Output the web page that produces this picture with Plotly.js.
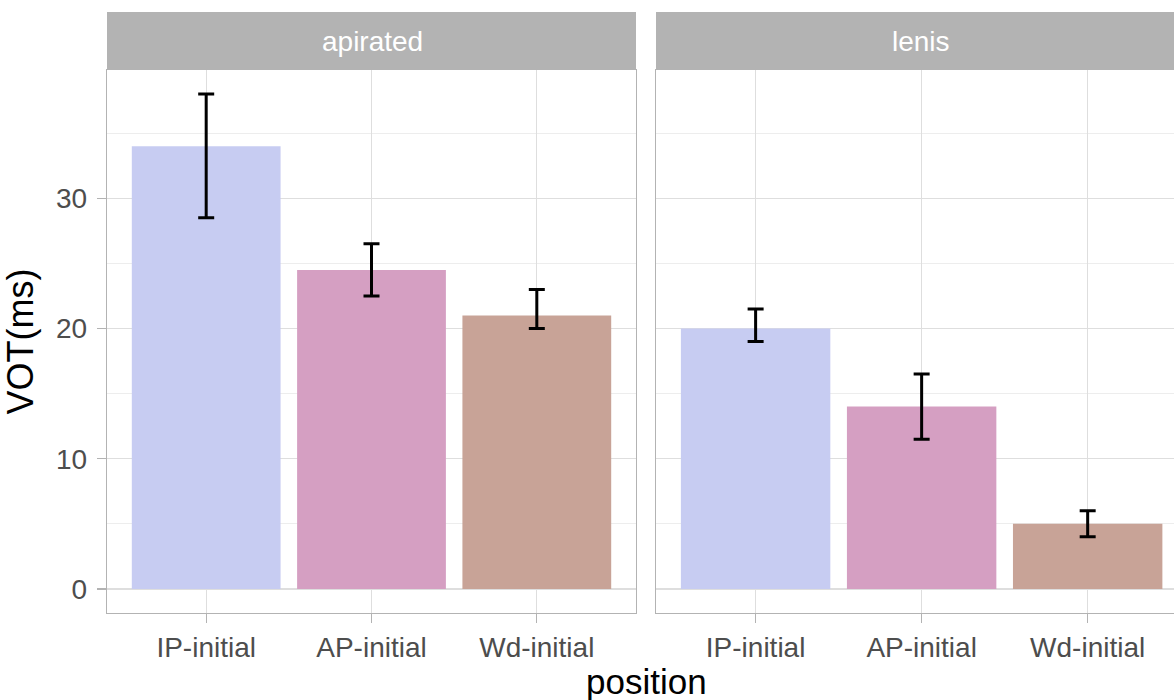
<!DOCTYPE html>
<html>
<head>
<meta charset="utf-8">
<script src="https://cdn.plot.ly/plotly-3.0.1.min.js"></script>
<style>html,body{margin:0;padding:0;background:#fff;}#chart{width:1174px;height:700px;}</style>
</head>
<body>
<div id="chart"></div>
<script>
const categories = ["IP-initial", "AP-initial", "Wd-initial"];
const panels = ["apirated", "lenis"];
const aspMean = [34, 24.5, 21];
const aspLow = [28.5, 22.5, 20];
const aspHigh = [38, 26.5, 23];
const lenMean = [20, 14, 5];
const lenLow = [19, 11.5, 4];
const lenHigh = [21.5, 16.5, 6];
const barColors = ["#C7CCF2", "#D59FC2", "#C8A397"];
const yTicks = [0, 10, 20, 30];

function barTrace(mean, lo, hi, xa, ya) {
  return {
    type: "bar", x: categories, y: mean, xaxis: xa, yaxis: ya,
    width: 0.9,
    marker: {color: barColors, line: {width: 0}},
    error_y: {type: "data", symmetric: false,
      array: hi.map((h, i) => h - mean[i]),
      arrayminus: mean.map((m, i) => m - lo[i]),
      color: "#000", thickness: 3, width: 8},
    hoverinfo: "x+y", showlegend: false
  };
}

const FF = "Liberation Sans, Arial, sans-serif";
const gridC = "#DEDEDE";
const borderC = "#B3B3B3";
const yr = [-1.85, 39.85];
const tickFont = {family: FF, size: 28, color: "#4D4D4D"};

function xaxis(dom, rng) {
  return {domain: dom, range: rng, type: "category", showgrid: true, gridcolor: gridC, gridwidth: 1.3,
    showline: true, mirror: true, linecolor: borderC, linewidth: 1.3,
    ticks: "outside", ticklen: 9, tickcolor: borderC, tickwidth: 1.3,
    tickfont: tickFont, zeroline: false, fixedrange: true};
}
function yaxis(anchor, showLabels, mirror) {
  return {anchor: anchor, domain: [0, 1], range: yr, tickvals: yTicks, ticktext: yTicks.map(String),
    showticklabels: showLabels, showgrid: true, gridcolor: gridC, gridwidth: 1.3,
    minor: {dtick: 5, tick0: 0, showgrid: true, gridcolor: "#EBEBEB", gridwidth: 0.9, ticks: ""},
    showline: true, mirror: mirror, linecolor: borderC, linewidth: 1.3,
    ticks: showLabels ? "outside" : "", ticklen: 9, tickcolor: borderC, tickwidth: 1.3,
    ticklabelstandoff: 4,
    tickfont: tickFont, zeroline: false, fixedrange: true};
}

const W = 1174, H = 700, mL = 107, mR = 0, mT = 70, mB = 87;
const plotW = W - mL - mR, plotH = H - mT - mB;
const d1 = [0, 529 / plotW], d2 = [549 / plotW, 1];
const stripH = 58 / plotH;

const shapes = [];
const annotations = [];
[[d1, panels[0]], [d2, panels[1]]].forEach(([d, label]) => {
  shapes.push({type: "rect", xref: "paper", yref: "paper", x0: d[0], x1: d[1], y0: 1, y1: 1 + stripH,
    fillcolor: "#B3B3B3", line: {width: 0}, layer: "above"});
  annotations.push({xref: "paper", yref: "paper", x: d[0] + 265 / plotW, y: 1 + stripH / 2,
    text: label, showarrow: false, xanchor: "center", yanchor: "middle",
    font: {family: FF, size: 28, color: "#FFFFFF"}});
});
annotations.push({xref: "paper", yref: "paper", x: (646 - mL) / plotW, y: -(681 - 613) / plotH, text: "position", showarrow: false,
  xanchor: "center", yanchor: "middle", font: {family: FF, size: 35, color: "#000"}});

const layout = {
  width: W, height: H,
  margin: {l: mL, r: mR, t: mT, b: mB},
  paper_bgcolor: "#fff", plot_bgcolor: "#fff",
  bargap: 0.1,
  xaxis: xaxis(d1, [-0.6, 2.6]),
  yaxis: Object.assign(yaxis("x", true, true), {
    title: {text: "VOT(ms)", standoff: 12, font: {family: FF, size: 36, color: "#000"}}}),
  xaxis2: Object.assign(xaxis(d2, [-0.6, 2.52]), {anchor: "y2"}),
  yaxis2: yaxis("x2", false, false),
  shapes: shapes, annotations: annotations
};

Plotly.newPlot("chart", [
  barTrace(aspMean, aspLow, aspHigh, "x", "y"),
  barTrace(lenMean, lenLow, lenHigh, "x2", "y2")
], layout, {displayModeBar: false, staticPlot: true});
</script>
</body>
</html>
